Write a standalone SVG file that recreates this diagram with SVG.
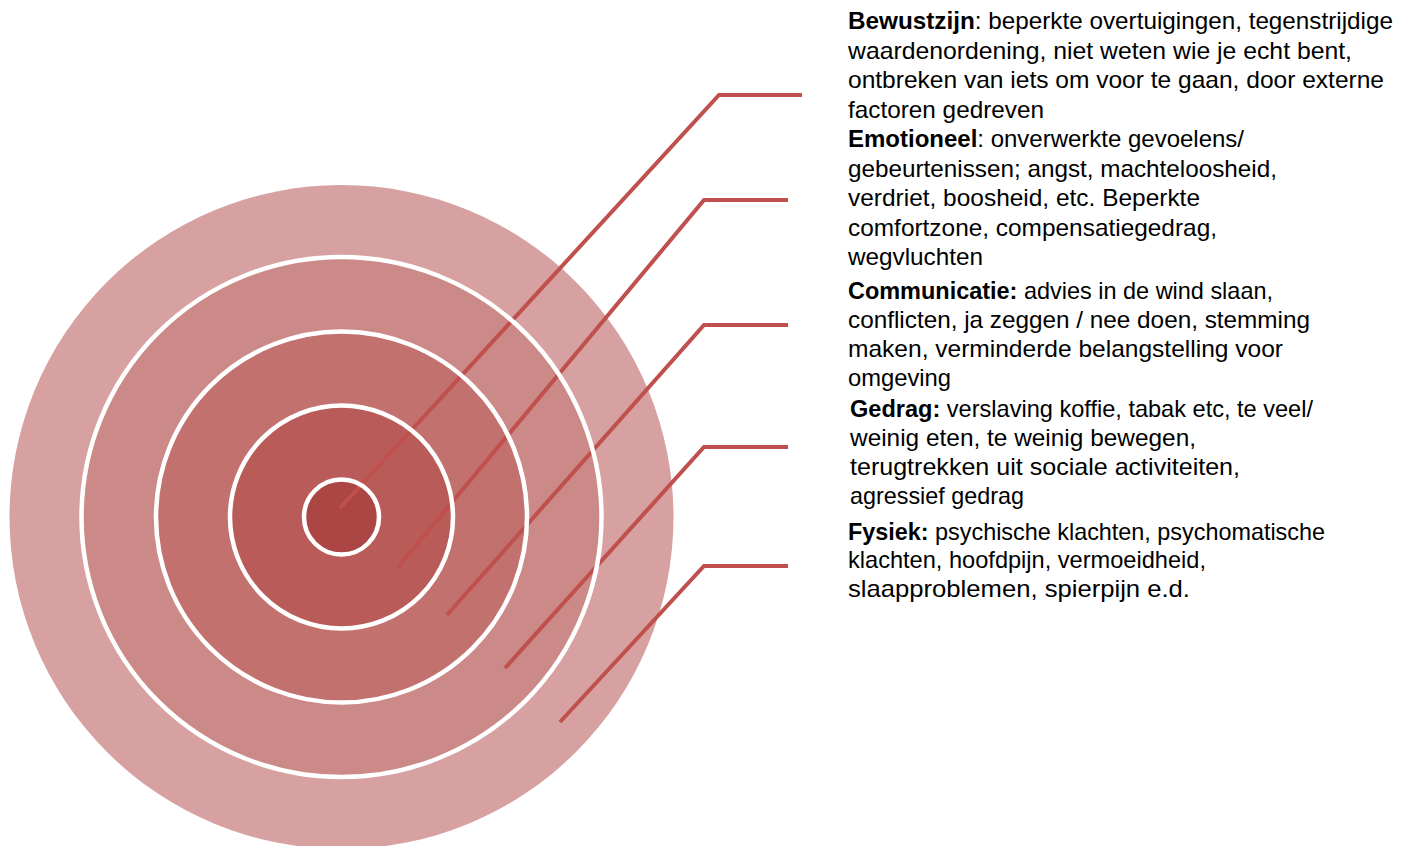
<svg xmlns="http://www.w3.org/2000/svg" width="1402" height="846" viewBox="0 0 1402 846">
<style>
.ring-outline{fill:none;stroke:#FFFFFF;stroke-width:4.5}
.conn{fill:none;stroke:#C0504D;stroke-width:4;stroke-linejoin:miter;stroke-linecap:butt}
.lbl{font-family:"Liberation Sans",Arial,sans-serif;font-size:24px;fill:#000000}
.b{font-weight:bold}
</style>
<rect x="0" y="0" width="1402" height="846" fill="#FFFFFF"/>
<g id="target">
  <g id="ring-fysiek"><circle cx="341.5" cy="517" r="332" fill="#D6A1A0"/></g>
  <g id="ring-gedrag"><circle cx="341.5" cy="517" r="260" fill="#CB8987"/></g>
  <g id="ring-communicatie"><circle cx="341.5" cy="517" r="185.5" fill="#C2716E"/></g>
  <g id="ring-emotioneel"><circle cx="341.5" cy="517" r="111.5" fill="#B95B58"/></g>
  <g id="ring-bewustzijn"><circle cx="341.5" cy="517" r="37.5" fill="#AC4644"/></g>
</g>
<g id="connectors">
  <polyline class="conn" points="340,508 719,95 802,95"/>
  <polyline class="conn" points="398,567 704,200 788,200"/>
  <polyline class="conn" points="447,615 704,325 788,325"/>
  <polyline class="conn" points="505,668 704,447 788,447"/>
  <polyline class="conn" points="560,722 704,566 788,566"/>
</g>
<g id="ring-outlines">
  <circle class="ring-outline" cx="341.5" cy="517" r="260"/>
  <circle class="ring-outline" cx="341.5" cy="517" r="185.5"/>
  <circle class="ring-outline" cx="341.5" cy="517" r="111.5"/>
  <circle class="ring-outline" cx="341.5" cy="517" r="37.5"/>
</g>
<g id="label-bewustzijn" class="lbl">
  <text x="848" y="29" textLength="545" lengthAdjust="spacingAndGlyphs"><tspan class="b">Bewustzijn</tspan>: beperkte overtuigingen, tegenstrijdige</text>
  <text x="848" y="58.5" textLength="504" lengthAdjust="spacingAndGlyphs">waardenordening, niet weten wie je echt bent,</text>
  <text x="848" y="88" textLength="536" lengthAdjust="spacingAndGlyphs">ontbreken van iets om voor te gaan, door externe</text>
  <text x="848" y="117.5" textLength="196" lengthAdjust="spacingAndGlyphs">factoren gedreven</text>
</g>
<g id="label-emotioneel" class="lbl">
  <text x="848" y="147" textLength="396" lengthAdjust="spacingAndGlyphs"><tspan class="b">Emotioneel</tspan>: onverwerkte gevoelens/</text>
  <text x="848" y="176.5" textLength="429" lengthAdjust="spacingAndGlyphs">gebeurtenissen; angst, machteloosheid,</text>
  <text x="848" y="206" textLength="352" lengthAdjust="spacingAndGlyphs">verdriet, boosheid, etc. Beperkte</text>
  <text x="848" y="235.5" textLength="369" lengthAdjust="spacingAndGlyphs">comfortzone, compensatiegedrag,</text>
  <text x="848" y="265" textLength="135" lengthAdjust="spacingAndGlyphs">wegvluchten</text>
</g>
<g id="label-communicatie" class="lbl">
  <text x="848" y="298.5" textLength="425" lengthAdjust="spacingAndGlyphs"><tspan class="b">Communicatie:</tspan> advies in de wind slaan,</text>
  <text x="848" y="327.5" textLength="462" lengthAdjust="spacingAndGlyphs">conflicten, ja zeggen / nee doen, stemming</text>
  <text x="848" y="356.5" textLength="435" lengthAdjust="spacingAndGlyphs">maken, verminderde belangstelling voor</text>
  <text x="848" y="385.5" textLength="103" lengthAdjust="spacingAndGlyphs">omgeving</text>
</g>
<g id="label-gedrag" class="lbl">
  <text x="850" y="416.5" textLength="463" lengthAdjust="spacingAndGlyphs"><tspan class="b">Gedrag:</tspan> verslaving koffie, tabak etc, te veel/</text>
  <text x="850" y="446" textLength="346" lengthAdjust="spacingAndGlyphs">weinig eten, te weinig bewegen,</text>
  <text x="850" y="474.5" textLength="390" lengthAdjust="spacingAndGlyphs">terugtrekken uit sociale activiteiten,</text>
  <text x="850" y="503.5" textLength="174" lengthAdjust="spacingAndGlyphs">agressief gedrag</text>
</g>
<g id="label-fysiek" class="lbl">
  <text x="848" y="539.5" textLength="477" lengthAdjust="spacingAndGlyphs"><tspan class="b">Fysiek:</tspan> psychische klachten, psychomatische</text>
  <text x="848" y="568" textLength="358" lengthAdjust="spacingAndGlyphs">klachten, hoofdpijn, vermoeidheid,</text>
  <text x="848" y="597" textLength="342" lengthAdjust="spacingAndGlyphs">slaapproblemen, spierpijn e.d.</text>
</g>
</svg>
